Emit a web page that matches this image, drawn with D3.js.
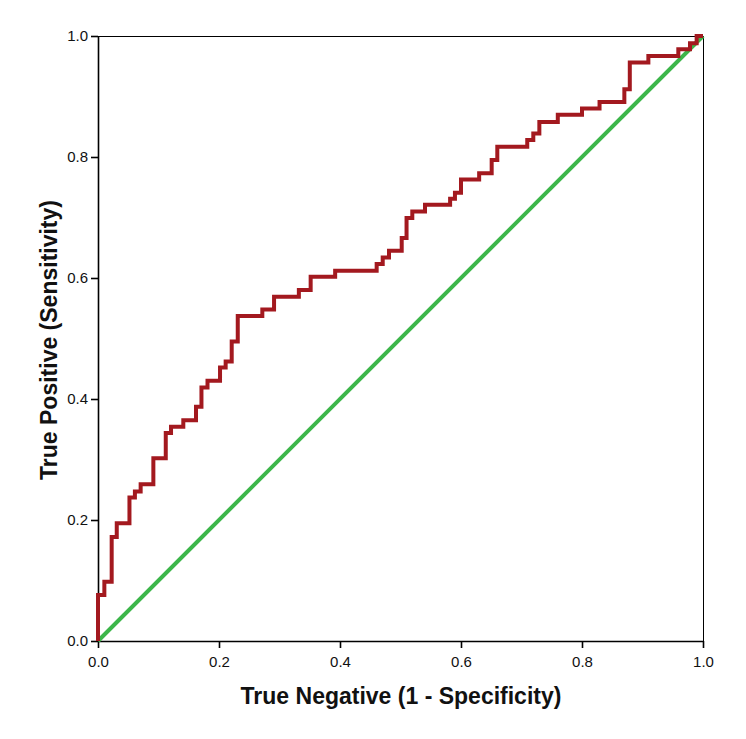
<!DOCTYPE html>
<html>
<head>
<meta charset="utf-8">
<script src="https://cdn.jsdelivr.net/npm/d3@7"></script>
<style>
  html, body { margin: 0; padding: 0; background: #fff; }
  svg { display: block; font-family: "Liberation Sans", Arial, sans-serif; }
</style>
</head>
<body>
<svg id="chart" width="746" height="739"></svg>
<script>
// ROC curve corner points: at each fpr the curve jumps up to tpr
const fpr = [0, 0, 0.0105, 0.0226, 0.031, 0.052, 0.061, 0.0705, 0.0915, 0.112, 0.1207, 0.141,
  0.162, 0.171, 0.181, 0.2017, 0.211, 0.221, 0.231, 0.2716, 0.291, 0.332, 0.3515, 0.392,
  0.4606, 0.4706, 0.481, 0.502, 0.510, 0.5195, 0.5405, 0.582, 0.590, 0.600, 0.630, 0.6507,
  0.660, 0.7095, 0.7195, 0.7295, 0.760, 0.800, 0.829, 0.870, 0.879, 0.9097, 0.9592, 0.9785,
  0.9895, 1.0];
const tpr = [0, 0.076, 0.098, 0.172, 0.1945, 0.237, 0.247, 0.259, 0.302, 0.344, 0.354, 0.365,
  0.387, 0.419, 0.430, 0.452, 0.462, 0.495, 0.537, 0.548, 0.569, 0.580, 0.602, 0.612,
  0.623, 0.634, 0.645, 0.666, 0.699, 0.710, 0.721, 0.731, 0.741, 0.763, 0.773, 0.795,
  0.817, 0.828, 0.839, 0.858, 0.870, 0.880, 0.891, 0.912, 0.956, 0.967, 0.978, 0.988,
  1.0, 1.0];
const refX = [0, 1];
const refY = [0, 1];
const tickValues = [0, 0.2, 0.4, 0.6, 0.8, 1.0];
const xTitle = "True Negative (1 - Specificity)";
const yTitle = "True Positive (Sensitivity)";

const svg = d3.select("#chart");
const pL = 98, pR = 703, pT = 36, pB = 641;
const x = d3.scaleLinear().domain([0, 1]).range([pL, pR]);
const y = d3.scaleLinear().domain([0, 1]).range([pB, pT]);

// frame (top and right)
svg.append("rect")
  .attr("x", pL).attr("y", pT)
  .attr("width", pR - pL).attr("height", pB - pT)
  .attr("fill", "none").attr("stroke", "#000").attr("stroke-width", 1)
  .attr("shape-rendering", "crispEdges");

// axes
const fmt = d3.format(".1f");
const xAxis = svg.append("g").attr("transform", `translate(0,${pB})`)
  .call(d3.axisBottom(x).tickValues(tickValues).tickFormat(fmt).tickSize(7).tickSizeOuter(0));
const yAxis = svg.append("g").attr("transform", `translate(${pL},0)`)
  .call(d3.axisLeft(y).tickValues(tickValues).tickFormat(fmt).tickSize(7).tickSizeOuter(0));
[xAxis, yAxis].forEach(g => {
  g.select(".domain").attr("stroke", "#000").attr("stroke-width", 1.6);
  g.selectAll(".tick line").attr("stroke", "#000").attr("stroke-width", 1.6);
  g.selectAll(".tick text").attr("fill", "#111").attr("font-size", 15)
    .attr("font-family", "'Liberation Sans', Arial, sans-serif");
});
xAxis.selectAll(".tick text").attr("dy", "1.07em");
yAxis.selectAll(".tick text").attr("x", -10);

// reference diagonal
const line = d3.line().x(d => x(d[0])).y(d => y(d[1]));
svg.append("path")
  .datum(refX.map((v, i) => [v, refY[i]]))
  .attr("d", line)
  .attr("fill", "none").attr("stroke", "#3CB64A").attr("stroke-width", 4);

// ROC step curve
const stepLine = d3.line().x(d => x(d[0])).y(d => y(d[1])).curve(d3.curveStepAfter);
svg.append("path")
  .datum(fpr.map((v, i) => [v, tpr[i]]))
  .attr("d", stepLine)
  .attr("fill", "none").attr("stroke", "#A3191F").attr("stroke-width", 4)
  .attr("stroke-linejoin", "miter");

// titles
svg.append("text")
  .attr("x", 401).attr("y", 704)
  .attr("text-anchor", "middle")
  .attr("font-size", 23).attr("font-weight", "bold").attr("fill", "#111")
  .text(xTitle);
svg.append("text")
  .attr("transform", `translate(57,340) rotate(-90)`)
  .attr("text-anchor", "middle")
  .attr("font-size", 23).attr("font-weight", "bold").attr("fill", "#111")
  .text(yTitle);
</script>
</body>
</html>
